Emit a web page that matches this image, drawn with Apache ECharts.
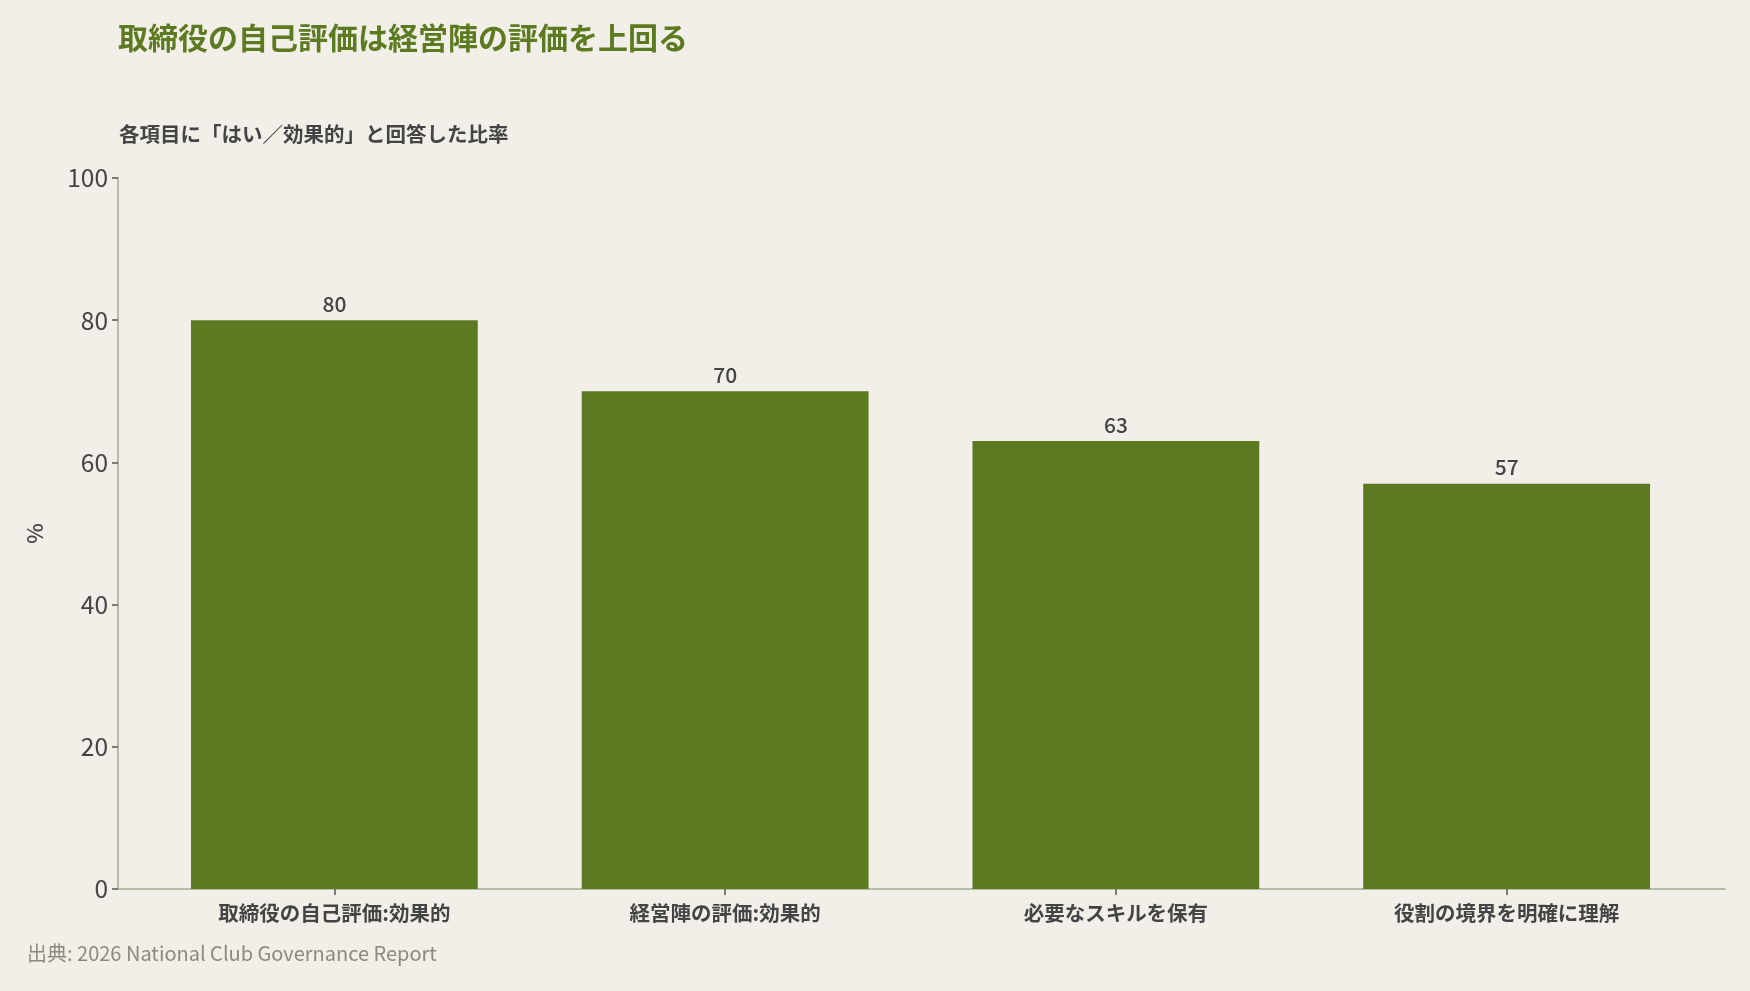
<!DOCTYPE html>
<html>
<head>
<meta charset="utf-8">
<script src="https://cdn.jsdelivr.net/npm/echarts@6/dist/echarts.min.js"></script>
<style>
  html, body { margin: 0; padding: 0; background: #f2efe9; }
  #chart { width: 1750px; height: 991px; }
</style>
</head>
<body>
<div id="chart"></div>
<script>
const categories = ['取締役の自己評価:効果的', '経営陣の評価:効果的', '必要なスキルを保有', '役割の境界を明確に理解'];
const yesShare = [80, 70, 63, 57];
const yTicks = [0, 20, 40, 60, 80, 100];

const titleText = '取締役の自己評価は経営陣の評価を上回る';
const subtitleText = '各項目に「はい／効果的」と回答した比率';
const sourceText = '出典: 2026 National Club Governance Report';

const green = '#5c7a20';
const ink = '#444444';
const font = '"Noto Sans CJK JP", "Noto Sans", sans-serif';

const chart = echarts.init(document.getElementById('chart'));
chart.setOption({
  backgroundColor: '#f2efe9',
  animation: false,
  textStyle: { fontFamily: font },
  title: [
    {
      text: titleText,
      left: 113,
      top: 18,
      textStyle: { fontFamily: font, fontSize: 30, fontWeight: 'bold', color: green },
    },
    {
      text: subtitleText,
      left: 114,
      top: 119,
      textStyle: { fontFamily: font, fontSize: 20.5, fontWeight: 'bold', color: ink },
    },
    {
      text: sourceText,
      left: 22,
      top: 938,
      textStyle: { fontFamily: font, fontSize: 20, fontWeight: 'normal', color: '#8a8a80' },
    },
  ],
  grid: [
    { left: 139, right: 48, top: 178, bottom: 102 },
    { left: 118, right: 25, top: 178, bottom: 102 },
  ],
  xAxis: [
    {
      type: 'category',
      gridIndex: 0,
      data: categories,
      axisLine: { show: false },
      axisTick: { show: true, alignWithLabel: true, length: 6, lineStyle: { color: '#555', width: 1.5 } },
      axisLabel: { margin: 14, fontSize: 20.5, fontWeight: 'bold', color: ink, fontFamily: font },
    },
    {
      type: 'value',
      gridIndex: 1,
      min: 0,
      max: 1,
      axisLine: { show: true, lineStyle: { color: '#b4bca8', width: 2 } },
      axisTick: { show: false },
      axisLabel: { show: false },
      splitLine: { show: false },
    },
  ],
  yAxis: [
    {
      type: 'value',
      gridIndex: 0,
      min: yTicks[0],
      max: yTicks[yTicks.length - 1],
      interval: 20,
      offset: 21,
      name: '%',
      nameLocation: 'middle',
      nameGap: 72,
      nameTextStyle: { fontSize: 22, fontWeight: 500, color: ink, fontFamily: font },
      axisLine: { show: true, lineStyle: { color: '#b4bca8', width: 2 } },
      axisTick: { show: true, length: 6, lineStyle: { color: '#555', width: 1.5 } },
      axisLabel: { margin: 10, fontSize: 24.5, color: ink, fontFamily: font },
      splitLine: { show: false },
    },
    {
      type: 'value',
      gridIndex: 1,
      show: false,
    },
  ],
  series: [
    {
      type: 'bar',
      xAxisIndex: 0,
      yAxisIndex: 0,
      data: yesShare,
      barCategoryGap: '26.6%',
      itemStyle: { color: green },
      label: {
        show: true,
        position: 'top',
        distance: 6,
        fontSize: 21,
        fontWeight: 500,
        color: ink,
        fontFamily: font,
      },
    },
  ],
});
</script>
</body>
</html>
